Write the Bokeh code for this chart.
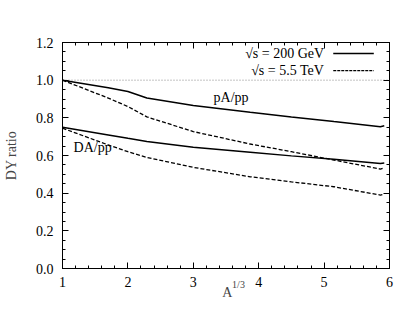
from bokeh.plotting import figure
from bokeh.models import (Range1d, FixedTicker, LinearAxis, Label,
                          PrintfTickFormatter, CustomJSTickFormatter, ColumnDataSource)
from bokeh.embed import file_html
from bokeh.resources import INLINE

# A^(1/3) positions
x_vals = [1.0, 1.7, 2.0, 2.29, 3.0, 3.87, 4.5, 5.15, 5.86, 5.92]
pA_200 = [1.0, 0.96, 0.94, 0.905, 0.866, 0.83, 0.805, 0.78, 0.753, 0.758]
pA_5500 = [1.0, 0.905, 0.86, 0.805, 0.727, 0.661, 0.62, 0.576, 0.528, 0.535]
DA_200 = [0.75, 0.709, 0.691, 0.674, 0.644, 0.617, 0.598, 0.580, 0.558, 0.56]
DA_5500 = [0.745, 0.656, 0.62, 0.59, 0.537, 0.487, 0.46, 0.434, 0.39, 0.395]
legend_labels = ["\u221as = 200 GeV", "\u221as = 5.5 TeV"]
y_ticks = [0.0, 0.2, 0.4, 0.6, 0.8, 1.0, 1.2]
y_minor = [round(i * 0.05, 2) for i in range(25)]
x_ticks = [1, 2, 3, 4, 5, 6]
x_minor = [round(1 + i * 0.2, 1) for i in range(26)]
ref_level = [1.0, 1.0]
ref_x = [1.0, 6.0]
x_title = "A"
x_title_sup = "1/3"

FONT = "Liberation Serif"

p = figure(width=397, height=315, output_backend="svg", toolbar_location=None,
           x_range=Range1d(1, 6), y_range=Range1d(0, 1.2),
           frame_width=327, frame_height=226,
           min_border_left=62, min_border_right=8, min_border_top=42,
           min_border_bottom=10)
p.outline_line_color = "black"
p.outline_line_width = 1
p.grid.visible = False


def style(ax, labels=True):
    ax.major_tick_in = 6
    ax.major_tick_out = 0
    ax.minor_tick_in = 3
    ax.minor_tick_out = 0
    ax.axis_line_color = "black"
    ax.major_tick_line_color = "black"
    ax.minor_tick_line_color = "black"
    ax.major_label_text_font = FONT
    ax.major_label_text_font_style = "normal"
    ax.major_label_text_font_size = "14px"
    ax.major_label_text_color = "black"
    if not labels:
        ax.formatter = CustomJSTickFormatter(code="return ''")
        ax.major_label_standoff = 0


xaxis = p.xaxis[0]
yaxis = p.yaxis[0]
xaxis.ticker = FixedTicker(ticks=x_ticks, minor_ticks=x_minor)
yaxis.ticker = FixedTicker(ticks=y_ticks, minor_ticks=y_minor)
style(xaxis)
style(yaxis)
xaxis.major_label_standoff = 8
yaxis.major_label_standoff = 9
yaxis.formatter = PrintfTickFormatter(format="%.1f")
yaxis.axis_label = "DY ratio"
yaxis.axis_label_text_font = FONT
yaxis.axis_label_text_font_style = "normal"
yaxis.axis_label_text_font_size = "14px"
yaxis.axis_label_standoff = 14

# superscript "1/3" as the label of the main x axis, padded to sit right of "A"
xaxis.axis_label = "\u2003\u2003\u2002" + x_title_sup
xaxis.axis_label_text_font = FONT
xaxis.axis_label_text_font_style = "normal"
xaxis.axis_label_text_font_size = "10px"
xaxis.axis_label_standoff = -11

# "A" as the label of a second, bare x axis below
xaxis2 = LinearAxis(ticker=FixedTicker(ticks=[]))
style(xaxis2, labels=False)
xaxis2.axis_line_color = None
xaxis2.axis_label = "\u2009" + x_title
xaxis2.axis_label_text_font = FONT
xaxis2.axis_label_text_font_style = "normal"
xaxis2.axis_label_text_font_size = "14px"
xaxis2.axis_label_standoff = -8
p.add_layout(xaxis2, "below")

top = LinearAxis(ticker=FixedTicker(ticks=x_ticks, minor_ticks=x_minor))
style(top, labels=False)
p.add_layout(top, "above")
right = LinearAxis(ticker=FixedTicker(ticks=y_ticks, minor_ticks=y_minor))
style(right, labels=False)
p.add_layout(right, "right")

# reference line at 1.0
p.line(ref_x, ref_level, line_color="#555555", line_width=0.7, line_dash="1 2")

src = ColumnDataSource(dict(x=x_vals, pa2=pA_200, pa5=pA_5500, da2=DA_200, da5=DA_5500))
p.line("x", "pa2", source=src, line_color="black", line_width=1.5)
p.line("x", "da2", source=src, line_color="black", line_width=1.5)
p.line("x", "pa5", source=src, line_color="black", line_width=1.3, line_dash="4 2")
p.line("x", "da5", source=src, line_color="black", line_width=1.3, line_dash="4 2")

# legend (manual)
leg_rows = [1.141, 1.051]
for lbl, yy in zip(legend_labels, leg_rows):
    p.add_layout(Label(x=5.0, y=yy, text=lbl, text_font=FONT,
                       text_font_size="14px", text_align="right",
                       text_baseline="middle", text_color="black"))
p.line([5.14, 5.76], [leg_rows[0]] * 2, line_color="black", line_width=1.5)
p.line([5.14, 5.76], [leg_rows[1]] * 2, line_color="black", line_width=1.3, line_dash="3 1")

p.add_layout(Label(x=3.31, y=0.907, text="pA/pp", text_font=FONT, text_font_size="14px",
                   text_baseline="middle", text_color="black"))
p.add_layout(Label(x=1.17, y=0.64, text="DA/pp", text_font=FONT, text_font_size="14px",
                   text_baseline="middle", text_color="black"))

open("out.html", "w").write(file_html(p, INLINE))
